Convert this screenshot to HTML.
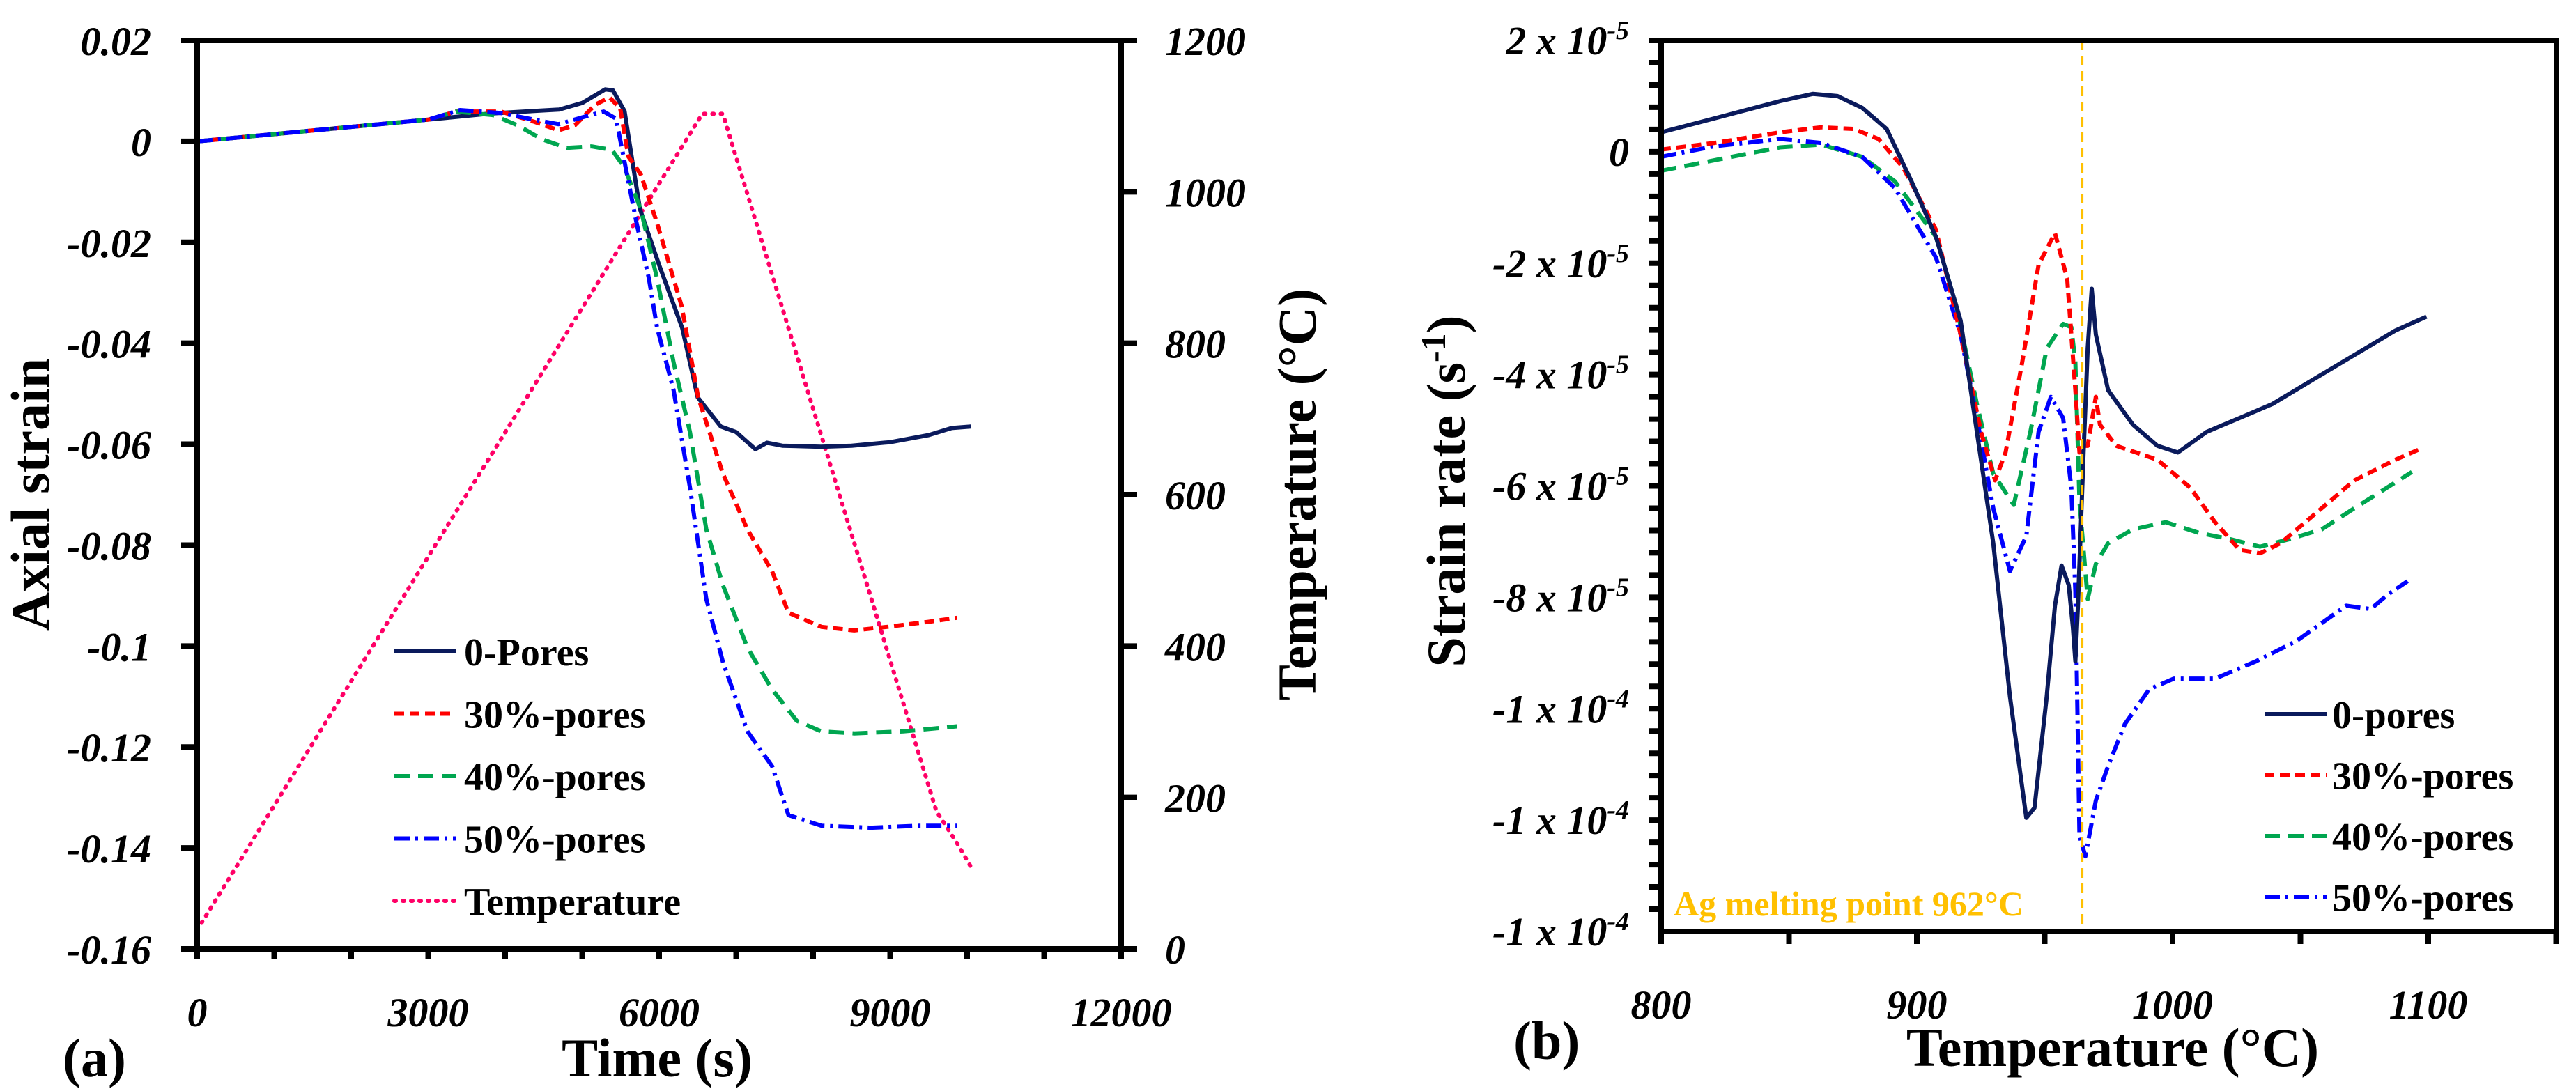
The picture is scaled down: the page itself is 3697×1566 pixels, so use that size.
<!DOCTYPE html>
<html><head><meta charset="utf-8">
<style>
html,body{margin:0;padding:0;background:#fff;}
svg{display:block;}
text{font-family:"Liberation Serif",serif;}
.tk{font-weight:bold;font-style:italic;font-size:58px;}
.tt{font-weight:bold;font-size:78px;}
.lg{font-weight:bold;font-size:56px;}
</style></head>
<body>
<svg id="svg" width="3697" height="1566" viewBox="0 0 3697 1566" xmlns="http://www.w3.org/2000/svg">
<g id="ca"></g>
<g id="cb"></g>
</svg>
<script>
// ---------- Chart (a) data ----------
const aXTicks=[0,3000,6000,9000,12000];
const aYTicks=[0.02,0,-0.02,-0.04,-0.06,-0.08,-0.1,-0.12,-0.14,-0.16];
const aYTickLabels=["0.02","0","-0.02","-0.04","-0.06","-0.08","-0.1","-0.12","-0.14","-0.16"];
const aY2Ticks=[0,200,400,600,800,1000,1200];
const p0T=[0,3000,3800,4700,5000,5300,5400,5550,5650,5750,6000,6300,6500,6800,7000,7250,7400,7600,8100,8500,9000,9500,9800,10050];
const p0S=[0,0.0043,0.0055,0.0063,0.0076,0.0103,0.0101,0.006,-0.0037,-0.0134,-0.0245,-0.037,-0.0507,-0.0565,-0.0576,-0.061,-0.0597,-0.0603,-0.0605,-0.0603,-0.0596,-0.0582,-0.0568,-0.0565];
const p30T=[0,3000,3360,3947,4373,4693,4907,5173,5355,5493,5600,5760,5973,6293,6507,6827,7147,7467,7680,8107,8533,8960,9493,9867];
const p30S=[0,0.0043,0.0059,0.0059,0.0039,0.0022,0.0032,0.0073,0.0087,0.0066,-0.003,-0.0065,-0.0162,-0.0327,-0.0507,-0.0658,-0.0769,-0.0852,-0.0934,-0.0962,-0.0969,-0.0962,-0.0952,-0.0944];
const p40T=[0,3000,3360,3840,4160,4480,4800,5120,5387,5547,5760,5973,6187,6400,6613,6827,7147,7467,7787,8107,8533,9173,9867];
const p40S=[0,0.0043,0.0059,0.0052,0.0032,0.0004,-0.0013,-0.001,-0.0017,-0.0051,-0.0134,-0.0272,-0.0438,-0.0576,-0.0769,-0.0879,-0.1003,-0.1086,-0.1148,-0.1169,-0.1173,-0.1169,-0.1159];
const p50T=[0,3000,3413,3947,4373,4693,5013,5280,5440,5600,5707,5867,5973,6187,6400,6613,6827,7147,7467,7680,8107,8747,9387,9867];
const p50S=[0,0.0043,0.0062,0.0056,0.0043,0.0034,0.0048,0.0059,0.0045,-0.0079,-0.0162,-0.0272,-0.0369,-0.0493,-0.0686,-0.0907,-0.1031,-0.1169,-0.1238,-0.1335,-0.1356,-0.136,-0.1356,-0.1356];
const tempT=[0,6560,6827,9600,9867,10080];
const tempV=[25,1103,1103,182,140,103];

// ---------- Chart (b) data ----------
const bXTicks=[800,900,1000,1100];
const bYTicks=[2,0,-2,-4,-6,-8,-10,-12,-14];
const bYTickLabels=[["2 x 10","-5"],["0",""],["-2 x 10","-5"],["-4 x 10","-5"],["-6 x 10","-5"],["-8 x 10","-5"],["-1 x 10","-4"],["-1 x 10","-4"],["-1 x 10","-4"]];
const r0T=[800,820.9,846.5,859.4,869,878.6,888.2,897.9,907.5,917.1,923.5,929.9,936.4,942.8,946,950.8,954,956.6,959.4,961,962,963,965.2,966.8,968.4,970,974.8,984.5,994.1,1002.1,1013.3,1026.2,1039,1055,1071.1,1087.1,1099.3];
const r0V=[0.35,0.6,0.91,1.04,1.0,0.79,0.41,-0.53,-1.53,-3.03,-5.03,-7.03,-9.78,-11.96,-11.78,-9.78,-8.15,-7.43,-7.78,-8.53,-9.15,-8.15,-5.4,-3.53,-2.46,-3.28,-4.28,-4.9,-5.28,-5.4,-5.03,-4.78,-4.53,-4.09,-3.65,-3.21,-2.96];
const r30T=[800,820.9,846.5,862.6,875.4,885,894.6,907.5,917.1,925.1,930.6,934.7,941.2,947.6,954,958.8,962,963.6,965.2,966.8,970,971.6,978,994.1,1006.9,1016.6,1026.2,1034.2,1042.2,1055,1071.1,1087.1,1096.7];
const r30V=[0.04,0.16,0.35,0.44,0.41,0.23,-0.28,-1.4,-3.28,-5.03,-5.9,-5.4,-3.78,-2.03,-1.46,-2.28,-4.28,-5.4,-5.28,-5.28,-4.4,-4.9,-5.28,-5.53,-6.03,-6.65,-7.15,-7.21,-7.03,-6.53,-5.9,-5.53,-5.34];
const r40T=[800,820.9,846.5,862.6,878.6,891.4,907.5,915.5,923.5,929.9,937.9,944.4,950.8,957.2,960.4,962,963.6,966.8,970,974.8,984.5,997.3,1010.1,1022.9,1034.2,1045.4,1058.3,1071.1,1083.9,1093.6];
const r40V=[-0.34,-0.15,0.08,0.13,-0.09,-0.53,-1.53,-2.78,-4.53,-5.78,-6.34,-5.03,-3.53,-3.09,-3.15,-3.78,-6.28,-8.03,-7.4,-7.03,-6.78,-6.65,-6.84,-6.96,-7.09,-6.96,-6.78,-6.4,-6.03,-5.75];
const r50T=[800,820.9,846.5,862.6,878.6,891.4,907.5,917.1,923.5,929.9,936.4,942.8,947.6,952.4,957.2,960.4,962,962.7,963.6,965.9,970,974.8,981.3,990.9,1000.5,1016.6,1032.6,1048.6,1067.9,1077.5,1083.9,1091.9];
const r50V=[-0.09,0.1,0.23,0.16,-0.09,-0.65,-1.9,-3.28,-4.78,-6.4,-7.53,-6.9,-5.03,-4.4,-4.78,-6.03,-7.9,-9.78,-12.28,-12.65,-11.65,-11.03,-10.28,-9.65,-9.46,-9.46,-9.15,-8.78,-8.15,-8.21,-7.96,-7.71];
const meltT=[964.6];

const NS="http://www.w3.org/2000/svg";
function mk(parent,tag,attrs,txt){const e=document.createElementNS(NS,tag);for(const k in attrs)e.setAttribute(k,attrs[k]);if(txt!==undefined)e.textContent=txt;parent.appendChild(e);return e;}
function pts(xs,ys,fx,fy){return xs.map((x,i)=>fx(x).toFixed(1)+","+fy(ys[i]).toFixed(1)).join(" ");}

// ===== Chart A =====
const A=document.getElementById('ca');
const ax=v=>283+(v/12000)*(1609-283);
const ay=v=>58+(0.02-v)/0.18*(1362-58);
const ay2=v=>1362-(v/1200)*(1362-58);
function seriesA(xs,ys,fy,color,dash,name,w){
  const p=mk(A,'polyline',{points:pts(xs,ys,ax,fy),fill:'none',stroke:color,'stroke-width':w||6,'stroke-dasharray':dash,'stroke-linejoin':'round','stroke-linecap':dash==='2 10'?'round':'butt'});
  
  
}
seriesA(tempT,tempV,ay2,'#ff0066','2 10','temperature-line',6);
seriesA(p0T,p0S,ay,'#0a1a5c','none','line-0-pores');
seriesA(p30T,p30S,ay,'#ff0000','14 8','line-30-pores');
seriesA(p40T,p40S,ay,'#00a650','22 12','line-40-pores');
seriesA(p50T,p50S,ay,'#0000ff','22 8 4 8','line-50-pores');
// frame
mk(A,'rect',{x:283,y:58,width:1326,height:1304,fill:'none',stroke:'#000','stroke-width':8});
// x ticks
for(let t=0;t<=12000;t+=1000){const l=mk(A,'line',{x1:ax(t),x2:ax(t),y1:1362,y2:1377,stroke:'#000','stroke-width':8});}
aXTicks.forEach(t=>{const e=mk(A,'text',{x:ax(t),y:1473,'text-anchor':'middle',class:'tk'},String(t));});
aYTicks.forEach((v,i)=>{mk(A,'line',{x1:260,x2:283,y1:ay(v),y2:ay(v),stroke:'#000','stroke-width':8});
  const e=mk(A,'text',{x:217,y:ay(v)+21,'text-anchor':'end',class:'tk'},aYTickLabels[i]);});
aY2Ticks.forEach(v=>{mk(A,'line',{x1:1609,x2:1632,y1:ay2(v),y2:ay2(v),stroke:'#000','stroke-width':8});
  const e=mk(A,'text',{x:1672,y:ay2(v)+21,'text-anchor':'start',class:'tk'},String(v));});
let e;
e=mk(A,'text',{x:0,y:0,'text-anchor':'middle',class:'tt',transform:'translate(70,710) rotate(-90)'},'Axial strain');
e=mk(A,'text',{x:0,y:0,'text-anchor':'middle',class:'tt',transform:'translate(1888,710) rotate(-90)'},'Temperature (°C)');
e=mk(A,'text',{x:943,y:1545,'text-anchor':'middle',class:'tt'},'Time (s)');
e=mk(A,'text',{x:90,y:1545,class:'tt','font-size':'88'},'(a)');
const legA=[['0-Pores','#0a1a5c','none'],['30%-pores','#ff0000','14 8'],['40%-pores','#00a650','22 12'],['50%-pores','#0000ff','22 8 4 8'],['Temperature','#ff0066','2 10']];
legA.forEach((L,i)=>{const y=935+i*89.5;
  mk(A,'line',{x1:566,x2:654,y1:y,y2:y,stroke:L[1],'stroke-width':6,'stroke-dasharray':L[2],'stroke-linecap':L[2]==='2 10'?'round':'butt'});
  const t=mk(A,'text',{x:666,y:y+20,class:'lg'},L[0]);});

// ===== Chart B =====
const B=document.getElementById('cb');
const bx=v=>2384+(v-800)/100*367;
const by=v=>58+(2-v)/16*(1337-58);
function seriesB(xs,ys,color,dash,name){
  const p=mk(B,'polyline',{points:pts(xs,ys,bx,by),fill:'none',stroke:color,'stroke-width':6,'stroke-dasharray':dash,'stroke-linejoin':'round'});
  
  
}
seriesB(r40T,r40V,'#00a650','22 12','line-40-pores-b');
seriesB(r50T,r50V,'#0000ff','22 8 4 8','line-50-pores-b');
seriesB(r30T,r30V,'#ff0000','14 8','line-30-pores-b');
seriesB(r0T,r0V,'#0a1a5c','none','line-0-pores-b');
meltT.forEach(v=>{const l=mk(B,'line',{x1:bx(v),x2:bx(v),y1:58,y2:1337,stroke:'#ffc000','stroke-width':4,'stroke-dasharray':'14 8'});});
mk(B,'rect',{x:2384,y:58,width:1285,height:1279,fill:'none',stroke:'#000','stroke-width':8});
for(let v=2;v>=-14;v-=0.4){mk(B,'line',{x1:2366,x2:2384,y1:by(v),y2:by(v),stroke:'#000','stroke-width':8});}
for(let t=800;t<=1150;t+=50){mk(B,'line',{x1:bx(t),x2:bx(t),y1:1337,y2:1355,stroke:'#000','stroke-width':8});}
bXTicks.forEach(t=>{const e=mk(B,'text',{x:bx(t),y:1462,'text-anchor':'middle',class:'tk'},String(t));});
bYTicks.forEach((v,i)=>{const t=mk(B,'text',{x:2338,y:by(v)+20,'text-anchor':'end',class:'tk','font-weight':'normal'});
  
  const a=document.createElementNS(NS,'tspan');a.textContent=bYTickLabels[i][0];t.appendChild(a);
  if(bYTickLabels[i][1]){const s=document.createElementNS(NS,'tspan');s.setAttribute('dy','-22');s.setAttribute('font-size','38');s.textContent=bYTickLabels[i][1];t.appendChild(s);}});
e=mk(B,'text',{x:0,y:0,'text-anchor':'middle',class:'tt',transform:'translate(2102,705) rotate(-90)'});
(function(){const a=document.createElementNS(NS,'tspan');a.textContent='Strain rate (s';e.appendChild(a);
const s=document.createElementNS(NS,'tspan');s.setAttribute('dy','-28');s.setAttribute('font-size','50');s.textContent='-1';e.appendChild(s);
const c=document.createElementNS(NS,'tspan');c.setAttribute('dy','28');c.textContent=')';e.appendChild(c);})();
e=mk(B,'text',{x:3032,y:1530,'text-anchor':'middle',class:'tt'},'Temperature (°C)');
e=mk(B,'text',{x:2172,y:1520,class:'tt','font-size':'88'},'(b)');
e=mk(B,'text',{x:2402,y:1314,fill:'#ffc000','font-size':'50','font-weight':'bold'},'Ag melting point 962°C');
const legB=[['0-pores','#0a1a5c','none'],['30%-pores','#ff0000','14 8'],['40%-pores','#00a650','22 12'],['50%-pores','#0000ff','22 8 4 8']];
legB.forEach((L,i)=>{const y=1025+i*87.5;
  mk(B,'line',{x1:3250,x2:3339,y1:y,y2:y,stroke:L[1],'stroke-width':6,'stroke-dasharray':L[2]});
  const t=mk(B,'text',{x:3347,y:y+20,class:'lg'},L[0]);});
</script>
</body></html>
